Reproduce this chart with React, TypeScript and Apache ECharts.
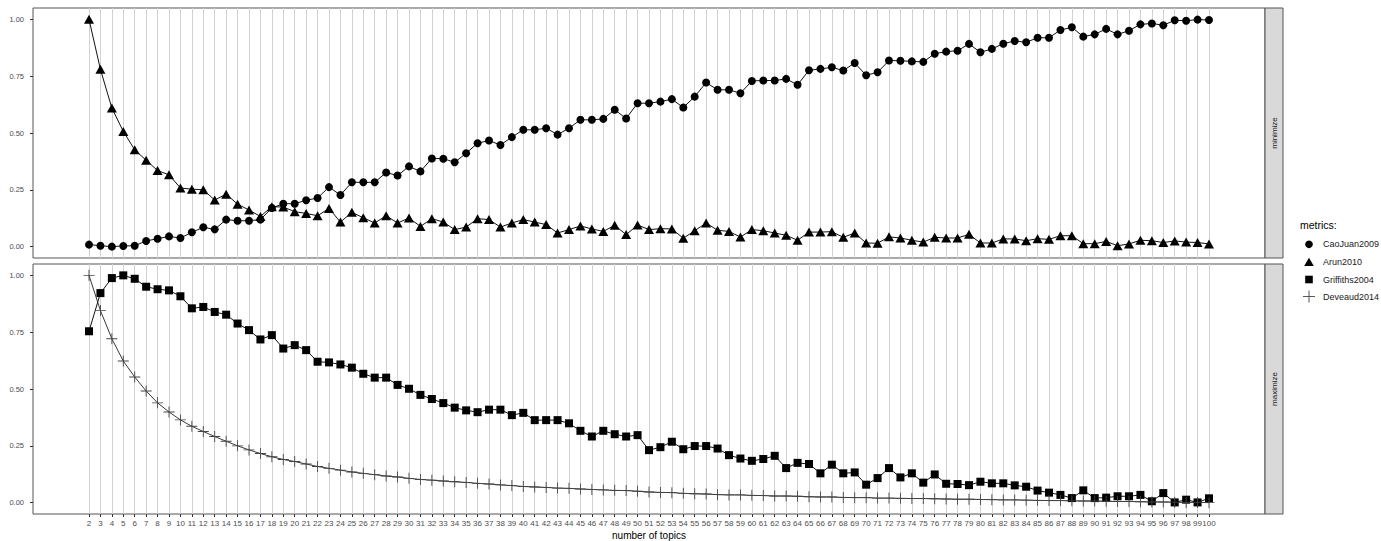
import React, { useEffect, useRef } from "react";
import * as echarts from "echarts";

const TOPICS = [
  2, 3, 4, 5, 6, 7, 8, 9, 10, 11,
  12, 13, 14, 15, 16, 17, 18, 19, 20, 21,
  22, 23, 24, 25, 26, 27, 28, 29, 30, 31,
  32, 33, 34, 35, 36, 37, 38, 39, 40, 41,
  42, 43, 44, 45, 46, 47, 48, 49, 50, 51,
  52, 53, 54, 55, 56, 57, 58, 59, 60, 61,
  62, 63, 64, 65, 66, 67, 68, 69, 70, 71,
  72, 73, 74, 75, 76, 77, 78, 79, 80, 81,
  82, 83, 84, 85, 86, 87, 88, 89, 90, 91,
  92, 93, 94, 95, 96, 97, 98, 99, 100,
];

const CAOJUAN2009 = [
  0.009, 0.004, 0.0, 0.003, 0.004, 0.025, 0.035, 0.045, 0.038, 0.063,
  0.085, 0.076, 0.119, 0.114, 0.114, 0.119, 0.17, 0.189, 0.189, 0.204,
  0.214, 0.262, 0.227, 0.283, 0.283, 0.283, 0.326, 0.313, 0.353, 0.331,
  0.388, 0.387, 0.371, 0.411, 0.455, 0.467, 0.447, 0.482, 0.514, 0.514,
  0.521, 0.493, 0.521, 0.558, 0.558, 0.562, 0.602, 0.564, 0.631, 0.631,
  0.638, 0.649, 0.612, 0.66, 0.722, 0.69, 0.69, 0.675, 0.729, 0.731,
  0.731, 0.738, 0.712, 0.776, 0.782, 0.789, 0.775, 0.808, 0.754, 0.767,
  0.819, 0.818, 0.815, 0.813, 0.849, 0.858, 0.862, 0.892, 0.855, 0.87,
  0.893, 0.905, 0.899, 0.919, 0.919, 0.953, 0.965, 0.924, 0.934, 0.958,
  0.934, 0.95, 0.978, 0.982, 0.974, 0.996, 0.994, 0.999, 0.997,
];

const ARUN2010 = [
  1.0, 0.78, 0.61, 0.507, 0.426, 0.38, 0.335, 0.316, 0.258, 0.253,
  0.25, 0.205, 0.231, 0.187, 0.161, 0.133, 0.176, 0.174, 0.154, 0.146,
  0.136, 0.168, 0.108, 0.151, 0.127, 0.104, 0.136, 0.104, 0.126, 0.089,
  0.123, 0.108, 0.075, 0.086, 0.123, 0.119, 0.086, 0.104, 0.119, 0.108,
  0.097, 0.06, 0.075, 0.091, 0.078, 0.067, 0.094, 0.053, 0.095, 0.075,
  0.079, 0.078, 0.037, 0.07, 0.104, 0.072, 0.067, 0.042, 0.075, 0.07,
  0.06, 0.05, 0.028, 0.064, 0.064, 0.066, 0.041, 0.06, 0.016, 0.015,
  0.043, 0.038, 0.028, 0.02, 0.041, 0.038, 0.038, 0.054, 0.016, 0.016,
  0.034, 0.034, 0.026, 0.035, 0.032, 0.048, 0.048, 0.013, 0.013, 0.023,
  0.004, 0.012, 0.028, 0.026, 0.018, 0.025, 0.02, 0.018, 0.012,
];

const GRIFFITHS2004 = [
  0.754, 0.922, 0.988, 1.0, 0.985, 0.95, 0.939, 0.934, 0.908, 0.855,
  0.861, 0.839, 0.827, 0.788, 0.759, 0.718, 0.737, 0.678, 0.693, 0.671,
  0.62, 0.617, 0.608, 0.594, 0.567, 0.55, 0.55, 0.518, 0.501, 0.474,
  0.456, 0.438, 0.418, 0.406, 0.398, 0.409, 0.409, 0.385, 0.395, 0.363,
  0.363, 0.363, 0.349, 0.316, 0.291, 0.316, 0.301, 0.291, 0.297, 0.231,
  0.244, 0.268, 0.235, 0.249, 0.249, 0.238, 0.209, 0.194, 0.184, 0.192,
  0.206, 0.152, 0.175, 0.17, 0.129, 0.167, 0.129, 0.133, 0.079, 0.108,
  0.152, 0.111, 0.129, 0.088, 0.124, 0.083, 0.082, 0.077, 0.092, 0.085,
  0.085, 0.076, 0.07, 0.053, 0.044, 0.034, 0.02, 0.054, 0.02, 0.022,
  0.028, 0.028, 0.034, 0.006, 0.042, 0.001, 0.013, 0.001, 0.019,
];

const DEVEAUD2014 = [
  1.0, 0.845, 0.721, 0.623, 0.553, 0.491, 0.439, 0.399, 0.364, 0.336,
  0.313, 0.291, 0.27, 0.25, 0.232, 0.216, 0.202, 0.19, 0.181, 0.17,
  0.159, 0.151, 0.143, 0.135, 0.129, 0.123, 0.117, 0.113, 0.107, 0.102,
  0.099, 0.095, 0.092, 0.089, 0.085, 0.082, 0.078, 0.075, 0.071, 0.069,
  0.067, 0.064, 0.063, 0.06, 0.058, 0.056, 0.054, 0.053, 0.05, 0.047,
  0.045, 0.044, 0.041, 0.039, 0.038, 0.035, 0.034, 0.034, 0.032, 0.031,
  0.029, 0.029, 0.028, 0.026, 0.025, 0.025, 0.023, 0.022, 0.022, 0.02,
  0.02, 0.019, 0.018, 0.018, 0.017, 0.016, 0.015, 0.015, 0.014, 0.013,
  0.012, 0.012, 0.011, 0.01, 0.009, 0.009, 0.008, 0.007, 0.007, 0.006,
  0.005, 0.005, 0.004, 0.003, 0.003, 0.002, 0.001, 0.001, 0.0,
];

const Y_TICKS = [0, 0.25, 0.5, 0.75, 1];
const SERIES_NAMES = ["CaoJuan2009", "Arun2010", "Griffiths2004", "Deveaud2014"];
const PANEL_NAMES = ["minimize", "maximize"];
const LEGEND_TITLE = "metrics:";
const X_TITLE = "number of topics";

const PLUS_PATH = "path://M0,4.6H10V5.4H0ZM4.6,0H5.4V10H4.6Z";
const FONT = "Liberation Sans, Arial, sans-serif";

export default function App() {
  const ref = useRef<HTMLDivElement>(null);

  useEffect(() => {
    document.body.style.margin = "0";
    const chart = echarts.init(ref.current!, null, { renderer: "svg" });
    const pair = (vals: number[]) => TOPICS.map((t, i) => [t, vals[i]]);

    const gridL = 33;
    const gridW = 1232;
    const grids = [
      { top: 8, height: 250 },
      { top: 264, height: 250 },
    ];

    const xAxisBase = {
      type: "value" as const,
      min: -2.9,
      max: 104.9,
      axisLine: { show: false, onZero: false },
      splitLine: { show: true, lineStyle: { color: "#d2d2d2", width: 1 } },
    };
    const yAxisBase = (gi: number) => ({
      type: "value" as const,
      gridIndex: gi,
      min: -0.05,
      max: 1.05,
      axisLine: { show: false, onZero: false },
      splitLine: { show: false },
      axisTick: {
        show: true,
        customValues: Y_TICKS,
        length: 3,
        lineStyle: { color: "#333", width: 1 },
      },
      axisLabel: {
        customValues: Y_TICKS,
        formatter: (v: number) => v.toFixed(2),
        fontSize: 7.5,
        color: "#4d4d4d",
        margin: 9,
        fontFamily: FONT,
      },
    });

    const stripX = 1265;
    const stripW = 18;
    const graphics: any[] = [];
    grids.forEach((g, i) => {
      graphics.push({
        type: "rect",
        shape: { x: stripX, y: g.top, width: stripW, height: g.height },
        style: { fill: "#d9d9d9", stroke: "#555", lineWidth: 1 },
      });
      graphics.push({
        type: "text",
        x: stripX + stripW / 2,
        y: g.top + g.height / 2,
        rotation: Math.PI / 2,
        style: {
          text: PANEL_NAMES[i],
          fontSize: 8,
          fontFamily: FONT,
          fill: "#1a1a1a",
          align: "center",
          verticalAlign: "middle",
        },
      });
    });

    // legend
    const lx = 1309;
    const ly = [244.3, 262.3, 279.5, 296.5];
    graphics.push({
      type: "text",
      x: 1300,
      y: 225,
      style: {
        text: LEGEND_TITLE,
        fontSize: 10.5,
        fontFamily: FONT,
        fill: "#000",
        align: "left",
        verticalAlign: "middle",
      },
    });
    graphics.push({ type: "circle", shape: { cx: lx, cy: ly[0], r: 3.8 }, style: { fill: "#000" } });
    graphics.push({
      type: "polygon",
      shape: { points: [[lx, ly[1] - 4.6], [lx - 4.8, ly[1] + 3.6], [lx + 4.8, ly[1] + 3.6]] },
      style: { fill: "#000" },
    });
    graphics.push({ type: "rect", shape: { x: lx - 3.8, y: ly[2] - 3.8, width: 7.6, height: 7.6 }, style: { fill: "#000" } });
    graphics.push({ type: "line", shape: { x1: lx - 6, y1: ly[3], x2: lx + 6, y2: ly[3] }, style: { stroke: "#444", lineWidth: 0.9 } });
    graphics.push({ type: "line", shape: { x1: lx, y1: ly[3] - 6, x2: lx, y2: ly[3] + 6 }, style: { stroke: "#444", lineWidth: 0.9 } });
    SERIES_NAMES.forEach((n, i) => {
      graphics.push({
        type: "text",
        x: 1323,
        y: ly[i],
        style: {
          text: n,
          fontSize: 9,
          fontFamily: FONT,
          fill: "#1a1a1a",
          align: "left",
          verticalAlign: "middle",
        },
      });
    });

    const lineBase = {
      type: "line" as const,
      showSymbol: true,
      showAllSymbol: true,
      emphasis: { disabled: true },
      silent: true,
    };

    const option: any = {
      animation: false,
      backgroundColor: "#fff",
      grid: grids.map((g) => ({
        left: gridL,
        width: gridW,
        top: g.top,
        height: g.height,
        show: true,
        borderColor: "#555",
        borderWidth: 1,
        backgroundColor: "#fff",
        containLabel: false,
      })),
      xAxis: [
        {
          ...xAxisBase,
          gridIndex: 0,
          axisTick: { show: false, customValues: TOPICS },
          axisLabel: { show: false, customValues: TOPICS },
        },
        {
          ...xAxisBase,
          gridIndex: 1,
          axisTick: {
            show: true,
            customValues: TOPICS,
            length: 3,
            lineStyle: { color: "#333", width: 1 },
          },
          axisLabel: {
            show: true,
            customValues: TOPICS,
            fontSize: 8,
            color: "#4d4d4d",
            margin: 5,
            fontFamily: FONT,
            hideOverlap: false,
          },
          name: X_TITLE,
          nameLocation: "middle",
          nameGap: 16,
          nameTextStyle: { fontSize: 10, color: "#000", fontFamily: FONT },
        },
      ],
      yAxis: [yAxisBase(0), yAxisBase(1)],
      series: [
        {
          ...lineBase,
          name: SERIES_NAMES[0],
          xAxisIndex: 0,
          yAxisIndex: 0,
          data: pair(CAOJUAN2009),
          symbol: "circle",
          symbolSize: 8,
          lineStyle: { color: "#111", width: 1 },
          itemStyle: { color: "#000" },
        },
        {
          ...lineBase,
          name: SERIES_NAMES[1],
          xAxisIndex: 0,
          yAxisIndex: 0,
          data: pair(ARUN2010),
          symbol: "triangle",
          symbolSize: [10, 9],
          lineStyle: { color: "#111", width: 1 },
          itemStyle: { color: "#000" },
        },
        {
          ...lineBase,
          name: SERIES_NAMES[2],
          xAxisIndex: 1,
          yAxisIndex: 1,
          data: pair(GRIFFITHS2004),
          symbol: "rect",
          symbolSize: 8,
          lineStyle: { color: "#111", width: 1 },
          itemStyle: { color: "#000" },
        },
        {
          ...lineBase,
          name: SERIES_NAMES[3],
          xAxisIndex: 1,
          yAxisIndex: 1,
          data: pair(DEVEAUD2014),
          symbol: PLUS_PATH,
          symbolSize: 11,
          lineStyle: { color: "#222", width: 0.9 },
          itemStyle: { color: "#444" },
        },
      ],
      graphic: graphics,
    };

    chart.setOption(option);
    return () => chart.dispose();
  }, []);

  return <div ref={ref} style={{ width: 1381, height: 541 }} />;
}
